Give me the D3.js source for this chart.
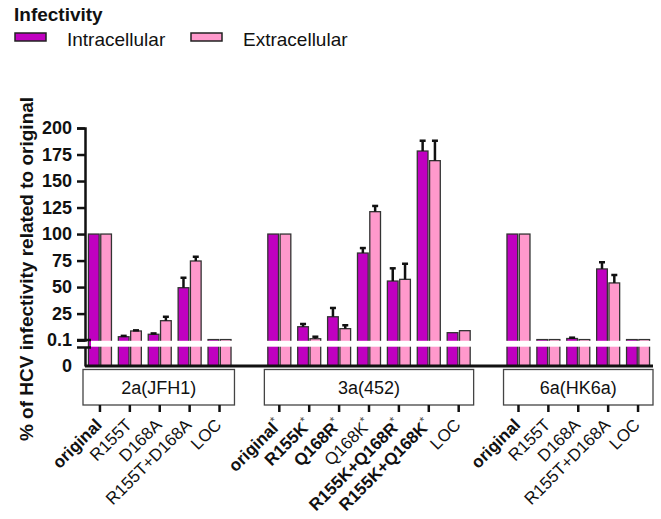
<!DOCTYPE html>
<html>
<head>
<meta charset="utf-8">
<script src="https://cdn.jsdelivr.net/npm/d3@7"></script>
<style>
  body { margin: 0; background: #fff; }
  svg { font-family: "Liberation Sans", Arial, sans-serif; }
</style>
</head>
<body>
<div id="chart"></div>
<script>
// groups and their categories
const groupNames = ["2a(JFH1)", "3a(452)", "6a(HK6a)"];
const groupLabels = [
  ["original", "R155T", "D168A", "R155T+D168A", "LOC"],
  ["original", "R155K", "Q168R", "Q168K", "R155K+Q168R", "R155K+Q168K", "LOC"],
  ["original", "R155T", "D168A", "R155T+D168A", "LOC"]
];
const groupBold = [
  [true, false, false, false, false],
  [true, true, true, false, true, true, false],
  [true, false, false, false, false]
];
const groupStar = [
  [false, false, false, false, false],
  [true, true, true, true, true, true, false],
  [false, false, false, false, false]
];

// % of HCV infectivity related to original (mean, error)
const intracellular = [
  [100, 3.2, 5.5, 49.4, 0.5],
  [100, 12.6, 22, 82.1, 55.7, 178.3, 7],
  [100, 0.5, 1.5, 67.1, 0.5]
];
const intraErr = [
  [0, 0.8, 0.8, 9.4, 0],
  [0, 2.6, 8.3, 4.7, 12, 9.7, 0],
  [0, 0, 0.8, 6.3, 0]
];
const extracellular = [
  [100, 8.6, 18.3, 74.6, 0.5],
  [100, 1.3, 10.8, 121.1, 57.3, 169.2, 8.9],
  [100, 0.5, 0.5, 53.9, 0.5]
];
const extraErr = [
  [0, 0.6, 3.7, 4, 0],
  [0, 1.9, 3.2, 5.4, 14.7, 18.8, 0],
  [0, 0, 0, 7.5, 0]
];

const seriesNames = ["Intracellular", "Extracellular"];
const seriesColors = ["#c000c0", "#ff99cc"];
const yTicksUpper = [0.1, 25, 50, 75, 100, 125, 150, 175, 200];

const width = 661, height = 519;

const svg = d3.select("#chart").append("svg")
  .attr("width", width)
  .attr("height", height);

// flatten rows, leaving one empty slot between groups
let rows = [];
let slots = [];
groupNames.forEach((g, gi) => {
  if (gi > 0) slots.push("gap" + gi);
  groupLabels[gi].forEach((lab, li) => {
    const key = gi + "|" + li;
    slots.push(key);
    rows.push({
      key: key, group: gi, label: lab,
      bold: groupBold[gi][li], star: groupStar[gi][li],
      values: [intracellular[gi][li], extracellular[gi][li]],
      errs: [intraErr[gi][li], extraErr[gi][li]]
    });
  });
});

const x = d3.scaleBand().domain(slots).range([85, 653]).padding(0);
const xs = d3.scaleBand().domain([0, 1]).range([-11.5, 11.5]).paddingInner(0.13);

// segmented y axis: 0-0.1 below the break, 0.1-200 above
const yUpper = d3.scaleLinear().domain([0.1, 200]).range([340, 128]);
const yLower = d3.scaleLinear().domain([0, 0.1]).range([366, 347.5]);
function yVal(v) { return v >= 0.1 ? yUpper(v) : yLower(v); }

// bars
const cat = svg.append("g").selectAll("g.cat")
  .data(rows).join("g")
  .attr("class", "cat")
  .attr("transform", d => "translate(" + (x(d.key) + x.bandwidth() / 2) + ",0)");

cat.selectAll("rect")
  .data(d => d.values.map((v, i) => ({ v: v, i: i })))
  .join("rect")
  .attr("x", d => xs(d.i))
  .attr("width", xs.bandwidth())
  .attr("y", d => yVal(d.v))
  .attr("height", d => yLower(0) - yVal(d.v))
  .attr("fill", d => seriesColors[d.i])
  .attr("stroke", "#333")
  .attr("stroke-width", 1.3);

// error bars (upper only)
const eb = cat.selectAll("g.err")
  .data(d => d.values.map((v, i) => ({ v: v, e: d.errs[i], i: i })).filter(d => d.e > 0))
  .join("g").attr("class", "err");
eb.append("line")
  .attr("x1", d => xs(d.i) + xs.bandwidth() / 2)
  .attr("x2", d => xs(d.i) + xs.bandwidth() / 2)
  .attr("y1", d => yVal(d.v))
  .attr("y2", d => yVal(d.v + d.e))
  .attr("stroke", "#111").attr("stroke-width", 2.5);
eb.append("line")
  .attr("x1", d => xs(d.i) + xs.bandwidth() / 2 - 3)
  .attr("x2", d => xs(d.i) + xs.bandwidth() / 2 + 3)
  .attr("y1", d => yVal(d.v + d.e))
  .attr("y2", d => yVal(d.v + d.e))
  .attr("stroke", "#111").attr("stroke-width", 2.5);

// white break band across the plot
svg.append("rect")
  .attr("x", 91).attr("width", 653 - 91)
  .attr("y", yUpper(0.1) + 0.8).attr("height", yLower(0.1) - yUpper(0.1) - 1.6)
  .attr("fill", "#fff");

// y axis, upper segment
const yAxisUp = svg.append("g")
  .attr("transform", "translate(85,0)")
  .call(d3.axisLeft(yUpper).tickValues(yTicksUpper).tickSize(8).tickPadding(5)
    .tickFormat(d => d === 0.1 ? "0.1" : d3.format("d")(d)));
// y axis, lower segment
const yAxisLo = svg.append("g")
  .attr("transform", "translate(85,0)")
  .call(d3.axisLeft(yLower).tickValues([0]).tickSize(0).tickPadding(13)
    .tickFormat(d3.format("d")));

[yAxisUp, yAxisLo].forEach(ax => {
  ax.select(".domain").attr("stroke", "#111").attr("stroke-width", 2.5);
  ax.selectAll(".tick line").attr("stroke", "#111").attr("stroke-width", 2.5);
  ax.selectAll(".tick text")
    .attr("font-size", 18).attr("font-weight", "bold").attr("fill", "#111")
    .attr("font-family", "Liberation Sans, Arial, sans-serif");
});

// break marks
svg.append("g").selectAll("line")
  .data([yUpper(0.1), yLower(0.1)])
  .join("line")
  .attr("x1", 77).attr("x2", 91)
  .attr("y1", d => d).attr("y2", d => d)
  .attr("stroke", "#111").attr("stroke-width", 2.5);

// x axis line
svg.append("line")
  .attr("x1", 85).attr("x2", 653)
  .attr("y1", yLower(0)).attr("y2", yLower(0))
  .attr("stroke", "#111").attr("stroke-width", 3);

// group boxes
groupNames.forEach((g, gi) => {
  const keys = groupLabels[gi].map((l, li) => gi + "|" + li);
  const x0 = x(keys[0]) - (gi === 0 ? 2 : 0);
  const x1 = x(keys[keys.length - 1]) + x.bandwidth();
  svg.append("rect")
    .attr("x", x0).attr("y", 369.5)
    .attr("width", x1 - x0).attr("height", 35.5)
    .attr("fill", "#fff").attr("stroke", "#444").attr("stroke-width", 1.3);
  svg.append("text")
    .attr("x", (x0 + x1) / 2).attr("y", 394)
    .attr("text-anchor", "middle")
    .attr("font-size", 18).attr("fill", "#111")
    .text(g);
});

// category ticks and labels
const xTick = svg.append("g").selectAll("g")
  .data(rows).join("g")
  .attr("transform", d => "translate(" + (x(d.key) + x.bandwidth() / 2) + ",405)");
xTick.append("line")
  .attr("y1", 0).attr("y2", 7)
  .attr("stroke", "#111").attr("stroke-width", 2.5);
const xLab = xTick.append("text")
  .attr("transform", "translate(3,21) rotate(-45)")
  .attr("text-anchor", "end")
  .attr("font-size", 17)
  .attr("fill", "#111");
xLab.append("tspan")
  .attr("font-weight", d => d.bold ? "bold" : "normal")
  .text(d => d.label);
xLab.filter(d => d.star).append("tspan")
  .attr("font-size", 12)
  .attr("dy", "-0.5em")
  .attr("fill", "#444")
  .text("*");

// y axis title
svg.append("text")
  .attr("transform", "translate(33,269) rotate(-90)")
  .attr("text-anchor", "middle")
  .attr("font-size", 19).attr("font-weight", "bold").attr("fill", "#111")
  .text("% of HCV infectivity related to original");

// legend
const legend = svg.append("g");
legend.append("text")
  .attr("x", 14).attr("y", 21)
  .attr("font-size", 19).attr("font-weight", "bold").attr("fill", "#111")
  .text("Infectivity");
const legX = [15, 191];
seriesNames.forEach((s, i) => {
  legend.append("rect")
    .attr("x", legX[i]).attr("y", 33)
    .attr("width", 31).attr("height", 8)
    .attr("fill", seriesColors[i]).attr("stroke", "#222").attr("stroke-width", 1.5);
  legend.append("text")
    .attr("x", legX[i] + 52).attr("y", 46)
    .attr("font-size", 19).attr("fill", "#111")
    .text(s);
});
</script>
</body>
</html>
